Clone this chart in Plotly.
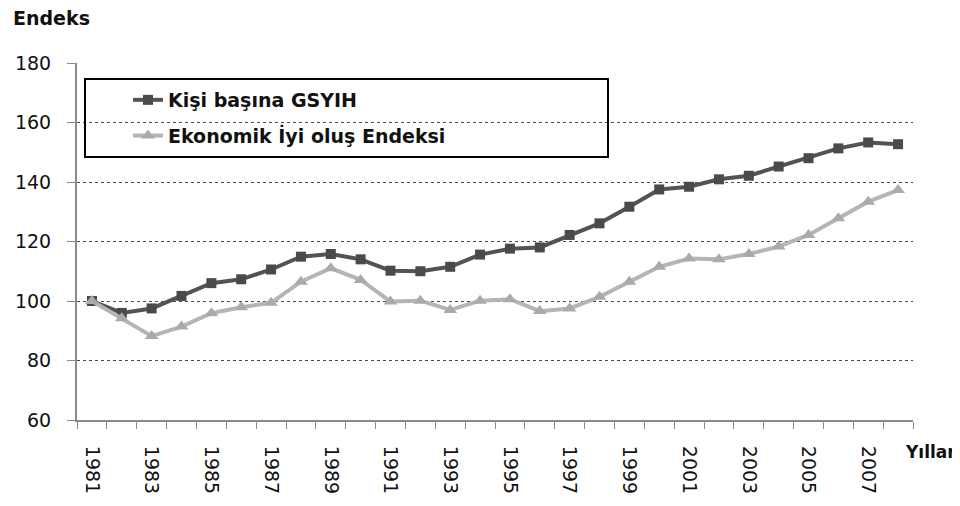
import plotly.graph_objects as go

years = list(range(1981, 2009))
gsyih = [100, 96, 97.5, 101.7, 106, 107.3, 110.6, 114.9, 115.8, 114, 110.2, 110, 111.5, 115.6,
         117.6, 118, 122.2, 126.1, 131.7, 137.5, 138.4, 140.9, 142.1, 145.2, 148, 151.3, 153.3, 152.7]
ekonomik = [100, 94.2, 88.2, 91.4, 95.9, 97.9, 99.4, 106.5, 111, 107.1, 99.8, 100.1, 97, 100.1,
            100.6, 96.6, 97.5, 101.4, 106.5, 111.5, 114.3, 114, 115.8, 118.3, 122.2, 127.8, 133.4, 137.3]
tick_years = list(range(1981, 2009, 2))
y_ticks = [60, 80, 100, 120, 140, 160, 180]

FONT = "DejaVu Sans"
PW = 836.0   # plot width px
PH = 357.0   # plot height px

fig = go.Figure()
fig.add_trace(go.Scatter(
    x=years, y=gsyih, name="Kişi başına GSYIH", mode="lines+markers",
    line=dict(color="#535353", width=4),
    marker=dict(symbol="square", size=10, color="#4a4a4a"),
    legendgroup="a"))
fig.add_trace(go.Scatter(
    x=years, y=ekonomik, name="Ekonomik İyi oluş Endeksi", mode="lines+markers",
    line=dict(color="#b5b5b5", width=4),
    marker=dict(symbol="triangle-up", size=12, color="#aaaaaa"),
    legendgroup="b"))

fig.update_layout(
    width=952, height=498,
    margin=dict(l=69, r=47, t=55, b=86, autoexpand=False),
    paper_bgcolor="white", plot_bgcolor="white",
    font=dict(family=FONT, color="#111111", size=19),
    showlegend=True,
    legend=dict(x=51 / PW, y=1 - 18 / PH, xanchor="left", yanchor="top",
                bgcolor="rgba(0,0,0,0)", borderwidth=0,
                font=dict(family=FONT, size=19, color="#111111", weight="bold"),
                tracegroupgap=8, itemwidth=30),
    xaxis=dict(range=[1980.5, 2008.5], tickmode="array", tickvals=tick_years,
               ticktext=[str(y) for y in tick_years], tickangle=90, ticks="",
               showgrid=False, zeroline=False, automargin=False,
               showline=True, linecolor="#8a8a8a", linewidth=2,
               tickfont=dict(family=FONT, size=19, color="#111111"),
               ticklabelstandoff=20,
               minor=dict(tick0=1980.5, dtick=1, ticks="outside", ticklen=7,
                          tickcolor="#8a8a8a", tickwidth=1, showgrid=False)),
    yaxis=dict(range=[60, 180], tickmode="array", tickvals=y_ticks,
               ticks="outside", ticklen=8, tickcolor="#8a8a8a",
               showgrid=True, gridcolor="#4a4a4a", griddash="dot", gridwidth=1,
               zeroline=False, showline=True, linecolor="#8a8a8a", linewidth=2,
               automargin=False,
               tickfont=dict(family=FONT, size=19, color="#111111"),
               ticklabelstandoff=12),
)

# legend frame
fig.add_shape(type="rect", xref="paper", yref="paper",
              x0=(85 - 77) / PW, x1=(608 - 77) / PW,
              y0=(420 - 157) / PH, y1=(420 - 79) / PH,
              line=dict(color="black", width=2), fillcolor="rgba(0,0,0,0)")

fig.add_annotation(text="<b>Endeks</b>", xref="paper", yref="paper",
                   x=-66 / PW, y=(420 - 18) / PH, xanchor="left", yanchor="middle",
                   showarrow=False, font=dict(family=FONT, size=19, color="#111111"))
fig.add_annotation(text="<b>Yıllar</b>", xref="paper", yref="paper",
                   x=(950 - 69) / PW, y=(420 - 452) / PH, xanchor="right", yanchor="middle",
                   showarrow=False, font=dict(family=FONT, size=17, color="#111111"))

fig.write_html("out.html")
